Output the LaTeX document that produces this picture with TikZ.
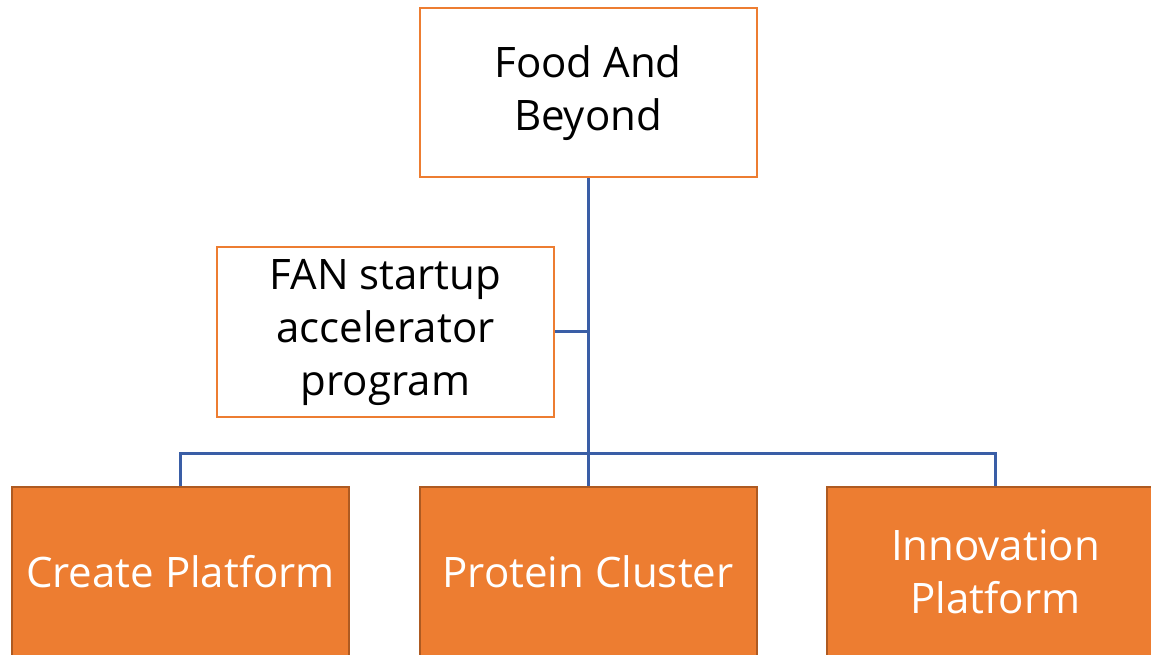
\documentclass[tikz,border=0pt]{standalone}
\usepackage{fontspec}
\setmainfont{Open Sans}
\definecolor{orng}{HTML}{ED7D31}
\definecolor{dorng}{HTML}{AE5A21}
\definecolor{lnblue}{RGB}{58,94,166}
\begin{document}
\begin{tikzpicture}[x=1pt,y=1pt,
  wbox/.style={draw=orng,line width=2pt,fill=white,minimum width=337pt,minimum height=169pt,align=center,inner sep=0pt,font=\fontsize{42}{53}\selectfont},
  obox/.style={draw=dorng,line width=2pt,fill=orng,minimum width=337pt,minimum height=169pt,align=center,inner sep=0pt,text=white,font=\fontsize{42}{53}\selectfont},
  conn/.style={draw=lnblue,line width=3pt}]
\clip (0,0) rectangle (1151,654);
\fill[white] (0,0) rectangle (1151,654);
\node[wbox] (top) at (588,561) {Food And\\Beyond};
\node[wbox] (fan) at (385.5,322) {FAN startup\\accelerator\\program};
\node[obox] (b1) at (180.5,82.5) {Create Platform};
\node[obox] (b2) at (588,82.5) {Protein Cluster};
\node[obox] (b3) at (995.5,82.5) {Innovation\\Platform};
\coordinate (j) at (588,201);
\draw[conn] (top.south) -- (b2.north);
\draw[conn] (fan.east) -- (fan.east -| top.south);
\draw[conn] (b1.north) |- (j) -| (b3.north);
\end{tikzpicture}
\end{document}
